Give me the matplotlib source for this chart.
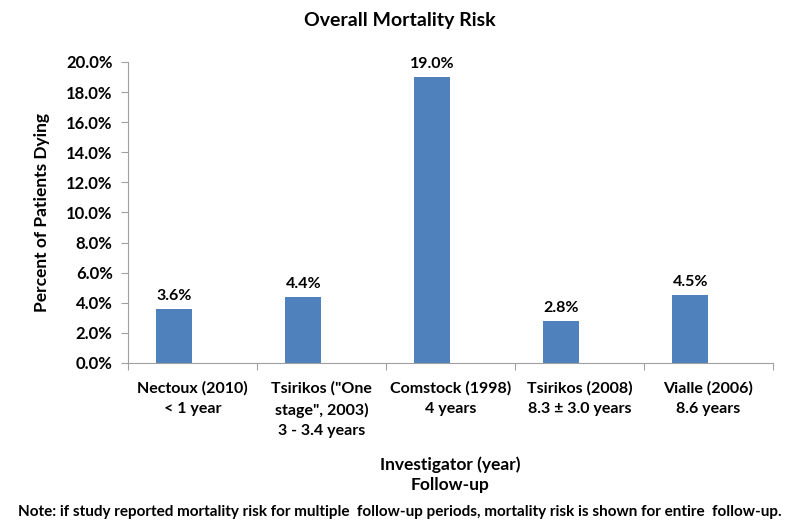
import numpy as np
import matplotlib.pyplot as plt
from matplotlib.ticker import FuncFormatter

plt.rcParams['font.family'] = ['Lato', 'DejaVu Sans']
plt.rcParams['font.weight'] = 'bold'

categories = ['Nectoux (2010)\n< 1 year',
              'Tsirikos ("One\nstage", 2003)\n3 - 3.4 years',
              'Comstock (1998)\n4 years',
              'Tsirikos (2008)\n8.3 \u00b1 3.0 years',
              'Vialle (2006)\n8.6 years']
mortality = [3.6, 4.4, 19.0, 2.8, 4.5]
labels = ['3.6%', '4.4%', '19.0%', '2.8%', '4.5%']

fig = plt.figure(figsize=(8, 5.29), dpi=100)
ax = fig.add_axes([0.16, 0.3138, 0.806, 0.569])

x = np.arange(len(categories))
w = 0.28
bars = ax.bar(x - w / 2, mortality, width=w, color='#4F81BD')
for b, lab in zip(bars, labels):
    ax.text(b.get_x() + b.get_width() / 2, b.get_height() + 0.4, lab,
            ha='center', va='bottom', fontsize=11.5, fontweight='bold')

ax.set_xlim(-0.5, len(categories) - 0.5)
ax.set_ylim(0, 20)
ax.set_yticks(np.arange(0, 20.1, 2))
ax.yaxis.set_major_formatter(FuncFormatter(lambda v, p: '%.1f%%' % v))
ax.set_xticks(np.arange(-0.5, len(categories), 1))
ax.set_xticklabels([])
ax.set_xticks(x, minor=True)
ax.set_xticklabels(categories, minor=True, fontsize=11.5, fontweight='bold',
                   linespacing=1.6, va='top')
ax.tick_params(axis='x', which='minor', length=0, pad=13)
ax.tick_params(axis='x', which='major', length=5, color='#a0a0a0')
ax.tick_params(axis='y', length=5, color='#a0a0a0', labelsize=12, pad=6)

for s in ['top', 'right']:
    ax.spines[s].set_visible(False)
for s in ['left', 'bottom']:
    ax.spines[s].set_color('#a0a0a0')

ax.set_ylabel('Percent of Patients Dying', fontsize=12.5, fontweight='bold', labelpad=12)
fig.text(0.5, 0.978, 'Overall Mortality Risk', ha='center', va='top',
         fontsize=14, fontweight='bold')
fig.text(0.5625, 0.102, 'Investigator (year)\nFollow-up', ha='center', va='center',
         fontsize=12.5, fontweight='bold', linespacing=1.3)
fig.text(0.5, 0.032, 'Note: if study reported mortality risk for multiple  follow-up periods, '
         'mortality risk is shown for entire  follow-up.', ha='center', va='center',
         fontsize=11, fontweight='bold')

fig.savefig('out.png', dpi=100)
